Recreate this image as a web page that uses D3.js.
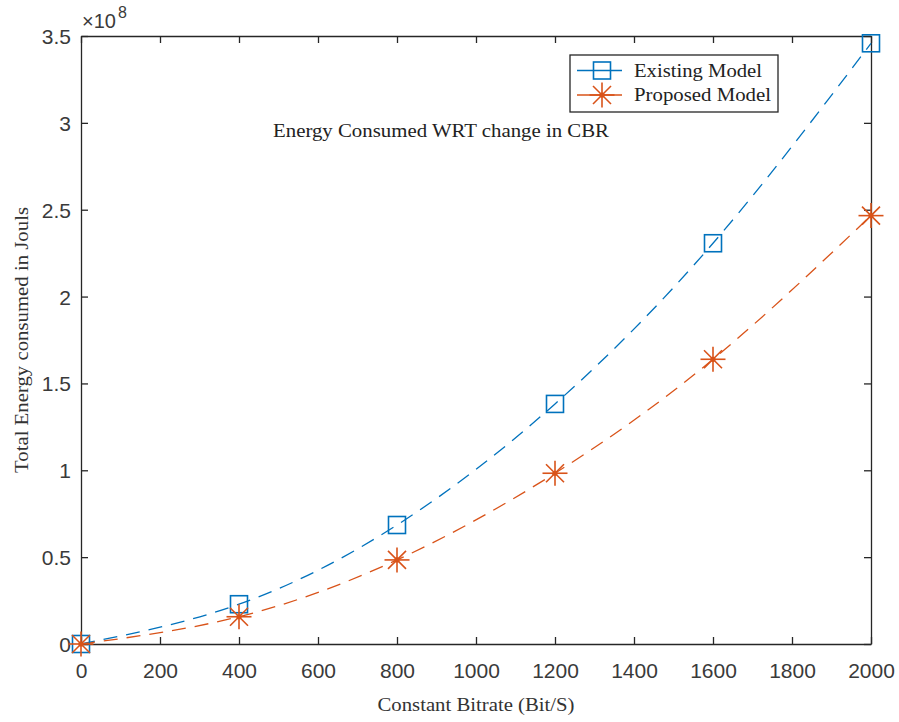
<!DOCTYPE html>
<html>
<head>
<meta charset="utf-8">
<script src="https://cdn.jsdelivr.net/npm/d3@7"></script>
<style>
  html, body { margin: 0; padding: 0; background: #fff; }
  svg { display: block; }
</style>
</head>
<body>
<svg id="chart" width="899" height="722"></svg>
<script>
// ---- data ----
const bitrate = [0, 400, 800, 1200, 1600, 2000];
const existingModel = [0, 0.229e8, 0.685e8, 1.382e8, 2.307e8, 3.458e8];
const proposedModel = [0, 0.157e8, 0.484e8, 0.983e8, 1.639e8, 2.466e8];
const xTickValues = [0, 200, 400, 600, 800, 1000, 1200, 1400, 1600, 1800, 2000];
const yTickValues = [0, 0.5e8, 1e8, 1.5e8, 2e8, 2.5e8, 3e8, 3.5e8];
const yTickLabels = ["0", "0.5", "1", "1.5", "2", "2.5", "3", "3.5"];
const seriesNames = ["Existing Model", "Proposed Model"];
const titleText = "Energy Consumed WRT change in CBR";
const xLabel = "Constant Bitrate (Bit/S)";
const yLabel = "Total Energy consumed in Jouls";

(function () {
// ---- layout ----
const mLeft = 81, mRight = 871, mTop = 36, mBottom = 644;
const axisColor = "#262626";
const blue = "#0072BD", orange = "#D95319";
const serif = "'Liberation Serif', 'Times New Roman', serif";
const sans = "'Liberation Sans', Arial, sans-serif";

const svg = d3.select("#chart");
const x = d3.scaleLinear().domain([0, 2000]).range([mLeft, mRight]);
const y = d3.scaleLinear().domain([0, 3.5e8]).range([mBottom, mTop]);

// axes box with inward ticks
const tickLen = 7;
const gB = svg.append("g").attr("transform", `translate(0,${mBottom})`)
  .call(d3.axisBottom(x).tickValues(xTickValues).tickSizeInner(-tickLen).tickSizeOuter(0).tickPadding(0).tickFormat(d3.format("d")));
gB.selectAll("text").attr("y", 34).attr("dy", 0);
const gT = svg.append("g").attr("transform", `translate(0,${mTop})`)
  .call(d3.axisTop(x).tickValues(xTickValues).tickSizeInner(-tickLen).tickSizeOuter(0).tickFormat(""));
const gL = svg.append("g").attr("transform", `translate(${mLeft},0)`)
  .call(d3.axisLeft(y).tickValues(yTickValues).tickSizeInner(-tickLen).tickSizeOuter(0).tickPadding(0)
    .tickFormat((d, i) => yTickLabels[i]));
gL.selectAll("text").attr("x", -10).attr("dy", "0.36em");
const gR = svg.append("g").attr("transform", `translate(${mRight},0)`)
  .call(d3.axisRight(y).tickValues(yTickValues).tickSizeInner(-tickLen).tickSizeOuter(0).tickFormat(""));

[gB, gT, gL, gR].forEach(g => {
  g.select(".domain").attr("stroke", axisColor).attr("stroke-width", 1.3);
  g.selectAll(".tick line").attr("stroke", axisColor).attr("stroke-width", 1.3);
  g.selectAll("text").attr("fill", "#3a3a3a").style("font-family", sans).style("font-size", "21px");
});

// exponent label
const expo = svg.append("text").attr("x", 82).attr("y", 28)
  .style("font-family", sans).style("font-size", "20px").attr("fill", "#3a3a3a");
expo.append("tspan").text("\u00D710");
expo.append("tspan").attr("dx", 2).attr("dy", -10).style("font-size", "16px").text("8");

// lines
const line = d3.line().x(d => x(d[0])).y(d => y(d[1])).curve(d3.curveNatural);
const series = [
  { name: seriesNames[0], values: existingModel, color: blue, marker: "square" },
  { name: seriesNames[1], values: proposedModel, color: orange, marker: "star" }
];

const plot = svg.append("g");
series.forEach(s => {
  const pts = bitrate.map((b, i) => [b, s.values[i]]);
  plot.append("path").datum(pts).attr("d", line)
    .attr("fill", "none").attr("stroke", s.color).attr("stroke-width", 1.3)
    .attr("stroke-dasharray", "14,9");
});

function drawMarker(g, type, cx, cy, color) {
  if (type === "square") {
    const h = 8.5;
    g.append("rect").attr("x", cx - h).attr("y", cy - h).attr("width", 2 * h).attr("height", 2 * h)
      .attr("fill", "none").attr("stroke", color).attr("stroke-width", 1.6);
  } else {
    const r = 12.5, dd = 9;
    const segs = [[-r, 0, r, 0], [0, -r, 0, r], [-dd, -dd, dd, dd], [-dd, dd, dd, -dd]];
    segs.forEach(sg => g.append("line")
      .attr("x1", cx + sg[0]).attr("y1", cy + sg[1]).attr("x2", cx + sg[2]).attr("y2", cy + sg[3])
      .attr("stroke", color).attr("stroke-width", 1.6));
    g.append("circle").attr("cx", cx).attr("cy", cy).attr("r", 2.6).attr("fill", color);
  }
}

series.forEach(s => {
  bitrate.forEach((b, i) => drawMarker(plot, s.marker, x(b), y(s.values[i]), s.color));
});

// title inside axes
svg.append("text").attr("x", 441).attr("y", 137).attr("text-anchor", "middle")
  .attr("textLength", 336).attr("lengthAdjust", "spacingAndGlyphs")
  .style("font-family", serif).style("font-size", "19px").attr("fill", "#222").text(titleText);

// axis labels
svg.append("text").attr("x", (mLeft + mRight) / 2).attr("y", 711).attr("text-anchor", "middle")
  .attr("textLength", 197).attr("lengthAdjust", "spacingAndGlyphs")
  .style("font-family", serif).style("font-size", "19px").attr("fill", "#333").text(xLabel);
svg.append("text").attr("transform", `translate(28,${(mTop + mBottom) / 2}) rotate(-90)`)
  .attr("text-anchor", "middle")
  .attr("textLength", 266).attr("lengthAdjust", "spacingAndGlyphs")
  .style("font-family", serif).style("font-size", "19px").attr("fill", "#333").text(yLabel);

// legend
const lg = svg.append("g");
lg.append("rect").attr("x", 570).attr("y", 55).attr("width", 208).attr("height", 57)
  .attr("fill", "#fff").attr("stroke", axisColor).attr("stroke-width", 1.3);
const legendY = [70.5, 95];
series.forEach((s, i) => {
  const ly = legendY[i];
  lg.append("line").attr("x1", 577).attr("x2", 622).attr("y1", ly).attr("y2", ly)
    .attr("stroke", s.color).attr("stroke-width", 1.3);
  drawMarker(lg, s.marker, 602, ly, s.color);
  lg.append("text").attr("x", 634).attr("y", ly + 6)
    .attr("textLength", i === 0 ? 128 : 137).attr("lengthAdjust", "spacingAndGlyphs")
    .style("font-family", serif).style("font-size", "19px").attr("fill", "#222").text(s.name);
});
})();
</script>
</body>
</html>
